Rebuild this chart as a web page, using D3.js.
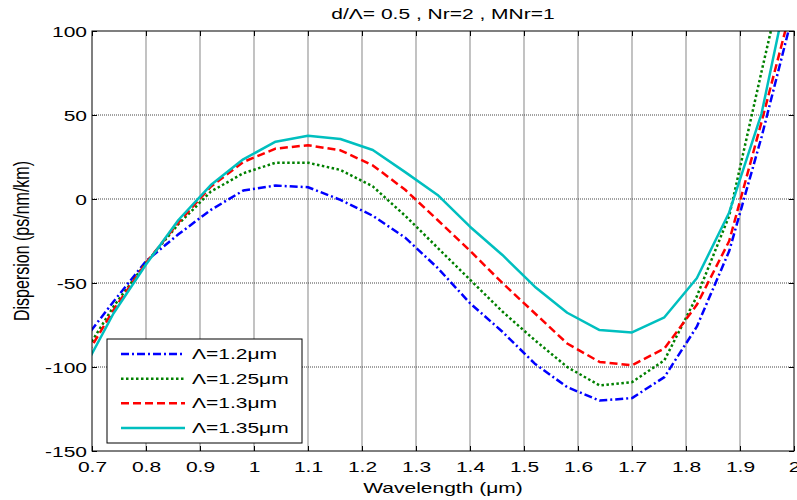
<!DOCTYPE html>
<html>
<head>
<meta charset="utf-8">
<script src="https://cdn.jsdelivr.net/npm/d3@7"></script>
<style>
  html, body { margin: 0; padding: 0; background: #fff; }
  svg { display: block; font-family: "Liberation Sans", Arial, Helvetica, sans-serif; }
</style>
</head>
<body>
<svg id="chart" width="797" height="500"></svg>
<script>
// Wavelength samples (µm)
const wavelength = [0.68, 0.74, 0.80, 0.86, 0.92, 0.98, 1.04, 1.10, 1.16, 1.22, 1.28, 1.34,
                    1.40, 1.46, 1.52, 1.58, 1.64, 1.70, 1.76, 1.82, 1.88, 1.94, 2.00];

// Dispersion (ps/nm/km) for each pitch Λ
const dispersionL120 = [-86, -61, -37, -21, -6.5, 5, 8, 7, -0.5, -10, -23, -41,
                        -62, -79, -98, -112, -120, -118.5, -106, -76, -31, 37, 113];
const dispersionL125 = [-95, -64, -38, -15, 4.4, 15.3, 21.6, 21.6, 17.3, 7.5, -10, -29,
                        -48, -67, -84, -100, -111, -109, -96, -58, -10, 76, 160];
const dispersionL130 = [-98, -66, -38, -14, 7.3, 22, 30, 32, 29, 20, 5.5, -12.5,
                        -30.8, -50, -68, -86, -97, -99, -89, -63, -25, 46, 120];
const dispersionL135 = [-104, -68, -39, -12.5, 8.3, 23.6, 34.1, 37.7, 35.7, 29.2, 16, 2.4,
                        -16.5, -33.3, -52.2, -67.7, -78, -79.4, -70.4, -47.2, -8, 51, 143];

const seriesLabels = ["Λ=1.2μm", "Λ=1.25μm", "Λ=1.3μm", "Λ=1.35μm"];
const seriesColors = ["#0000ff", "#008000", "#ff0000", "#00bfbf"];
const seriesDashes = ["8,3,2,3", "2.5,2.5", "8,4", null];

const xTicks = [0.7, 0.8, 0.9, 1.0, 1.1, 1.2, 1.3, 1.4, 1.5, 1.6, 1.7, 1.8, 1.9, 2.0];
const xTickLabels = ["0.7", "0.8", "0.9", "1", "1.1", "1.2", "1.3", "1.4", "1.5", "1.6", "1.7", "1.8", "1.9", "2"];
const yTicks = [-150, -100, -50, 0, 50, 100];
const yTickLabels = ["-150", "-100", "-50", "0", "50", "100"];

const titleText = "d/Λ= 0.5 , Nr=2 , MNr=1";
const xLabelText = "Wavelength (μm)";
const yLabelText = "Dispersion (ps/nm/km)";

const series = [dispersionL120, dispersionL125, dispersionL130, dispersionL135];

// Layout of the axes area
const plotLeft = 92, plotRight = 794, plotTop = 31, plotBottom = 451;
const sx = 1.5; // horizontal text stretch

const svg = d3.select("#chart");
const x = d3.scaleLinear().domain([0.7, 2.0]).range([plotLeft, plotRight]);
const y = d3.scaleLinear().domain([-150, 100]).range([plotBottom, plotTop]);

// Grid
const grid = svg.append("g");
grid.selectAll("line.vg").data(xTicks.slice(1, -1)).join("line")
  .attr("x1", d => x(d)).attr("x2", d => x(d))
  .attr("y1", plotTop).attr("y2", plotBottom)
  .attr("stroke", "#9a9a9a").attr("stroke-width", 1.2);
grid.selectAll("line.hg").data(yTicks.slice(1, -1)).join("line")
  .attr("x1", plotLeft).attr("x2", plotRight)
  .attr("y1", d => y(d)).attr("y2", d => y(d))
  .attr("stroke", "#444").attr("stroke-width", 1).attr("stroke-dasharray", "1,1");

// Curves, clipped to the axes area
svg.append("clipPath").attr("id", "plotClip")
  .append("rect").attr("x", plotLeft).attr("y", plotTop)
  .attr("width", plotRight - plotLeft).attr("height", plotBottom - plotTop);

const line = d3.line().x((d, i) => x(wavelength[i])).y(d => y(d));
const curves = svg.append("g").attr("clip-path", "url(#plotClip)");
series.forEach((s, k) => {
  curves.append("path")
    .attr("d", line(s))
    .attr("fill", "none")
    .attr("stroke", seriesColors[k])
    .attr("stroke-width", 2.5)
    .attr("stroke-linejoin", "round")
    .attr("stroke-dasharray", seriesDashes[k]);
});

// Axes (ticks pointing inward, box on)
function styleAxis(g) {
  g.select(".domain").remove();
  g.selectAll(".tick line").attr("stroke", "#000");
  g.selectAll("text").attr("fill", "#000").style("font-size", "14px")
    .style("font-family", "'Liberation Sans', Arial, sans-serif");
}

svg.append("g").attr("transform", `translate(0,${plotBottom})`)
  .call(d3.axisBottom(x).tickValues(xTicks).tickFormat((d, i) => xTickLabels[i])
    .tickSizeInner(-5).tickSizeOuter(0).tickPadding(0))
  .call(styleAxis)
  .call(g => g.selectAll("text").attr("y", 21).attr("dy", null)
    .attr("transform", `scale(${sx},1)`));

svg.append("g").attr("transform", `translate(0,${plotTop})`)
  .call(d3.axisTop(x).tickValues(xTicks).tickFormat("").tickSizeInner(-5).tickSizeOuter(0))
  .call(styleAxis);

svg.append("g").attr("transform", `translate(${plotLeft},0)`)
  .call(d3.axisLeft(y).tickValues(yTicks).tickFormat(d => yTickLabels[yTicks.indexOf(d)])
    .tickSizeInner(-5).tickSizeOuter(0))
  .call(styleAxis)
  .call(g => g.selectAll("text").attr("x", -5 / sx).attr("dy", "0.36em")
    .attr("transform", `scale(${sx},1)`));

svg.append("g").attr("transform", `translate(${plotRight},0)`)
  .call(d3.axisRight(y).tickValues(yTicks).tickFormat("").tickSizeInner(-5).tickSizeOuter(0))
  .call(styleAxis);

// Axes box
svg.append("rect").attr("x", plotLeft).attr("y", plotTop)
  .attr("width", plotRight - plotLeft).attr("height", plotBottom - plotTop)
  .attr("fill", "none").attr("stroke", "#000").attr("stroke-width", 1);

// Title and axis labels
svg.append("text")
  .attr("transform", `translate(${(plotLeft + plotRight) / 2},19) scale(${sx},1)`)
  .attr("text-anchor", "middle").style("font-size", "14px").text(titleText);

svg.append("text")
  .attr("transform", `translate(${(plotLeft + plotRight) / 2},493) scale(${sx},1)`)
  .attr("text-anchor", "middle").style("font-size", "14px").text(xLabelText);

svg.append("text")
  .attr("transform", `translate(29,${(plotTop + plotBottom) / 2}) scale(1.35,1) rotate(-90)`)
  .attr("text-anchor", "middle").style("font-size", "16px").text(yLabelText);

// Legend
const legend = svg.append("g");
legend.append("rect").attr("x", 107).attr("y", 339).attr("width", 195).attr("height", 104)
  .attr("fill", "#fff").attr("stroke", "#000").attr("stroke-width", 1);
const rowY = d3.scaleLinear().domain([0, 3]).range([354, 428]);
seriesLabels.forEach((lab, k) => {
  legend.append("line")
    .attr("x1", 121).attr("x2", 185).attr("y1", rowY(k)).attr("y2", rowY(k))
    .attr("stroke", seriesColors[k]).attr("stroke-width", 2.5)
    .attr("stroke-dasharray", seriesDashes[k]);
  legend.append("text")
    .attr("transform", `translate(192,${rowY(k) + 5}) scale(${sx},1)`)
    .style("font-size", "14px").text(lab);
});
</script>
</body>
</html>
